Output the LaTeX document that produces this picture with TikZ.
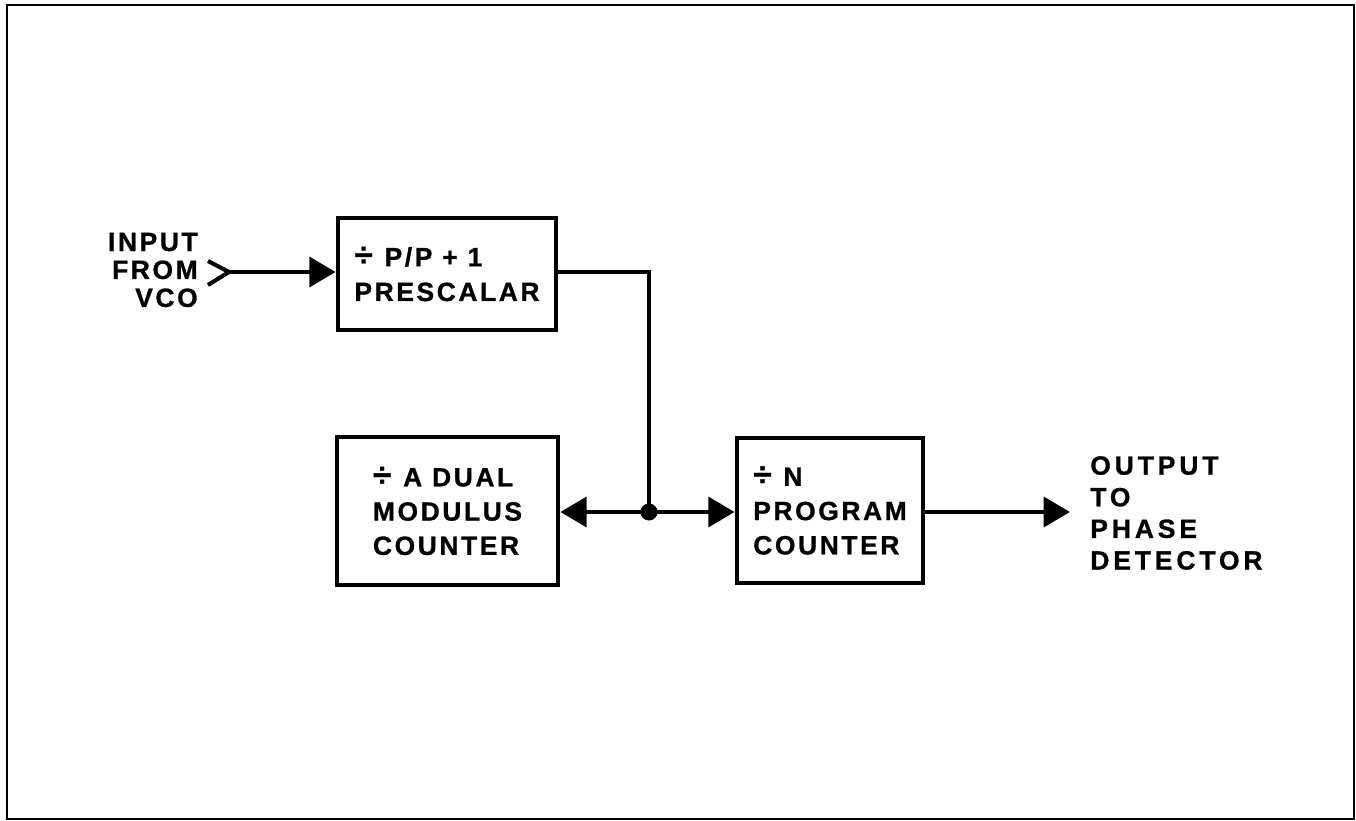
\documentclass[tikz,border=0pt]{standalone}
\usepackage{fontspec}
\setmainfont{Liberation Sans}
\newfontfamily\lbl[LetterSpace=10,FakeBold=1]{Liberation Sans Bold}
\newfontfamily\lblw[LetterSpace=15,FakeBold=1]{Liberation Sans Bold}
\newcommand{\bigdiv}{{\fontsize{19}{19}\selectfont ÷}\hspace{0.45em}}
\usetikzlibrary{arrows.meta}
\begin{document}
\begin{tikzpicture}[x=0.02cm,y=-0.02cm,
  blk/.style={draw,line width=2.7pt,align=left,anchor=center,inner sep=0pt,
    font=\lbl\fontsize{15}{19.5}\selectfont},
  wire/.style={line width=2.3pt},
  arr/.style={wire,-{Triangle[length=15pt,width=17pt]}},
  lab/.style={inner sep=0pt}]
\useasboundingbox (0,0) rectangle (1356,821);
\draw[line width=1.1pt] (7,5) rectangle (1354,819);
% blocks
\node[blk,minimum width=218*0.02cm,minimum height=112*0.02cm] (pre) at (447,274) {\bigdiv P/P + 1\\[0.3pt]PRESCALAR};
\node[blk,minimum width=221*0.02cm,minimum height=148*0.02cm] (dual) at (447.5,511) {\bigdiv A DUAL\\MODULUS\\COUNTER};
\node[blk,minimum width=186*0.02cm,minimum height=145*0.02cm] (prog) at (830,510.5) {\bigdiv N\\PROGRAM\\COUNTER};
% input
\node[lab,align=right,anchor=east,font=\lbl\fontsize{15}{15.9}\selectfont] (inp) at (198,270) {INPUT\\FROM\\VCO};
\coordinate (ctop) at (208,261);
\coordinate (ctip) at (229,272);
\coordinate (cbot) at (208,285);
\draw[wire,line join=miter] (ctop) -- (ctip) -- (cbot);
\draw[arr] (ctip) -- (ctip -| pre.west);
% junction
\coordinate (j) at (649,512);
\draw[wire] (pre.east |- 0,272) -| (j);
\fill (j) circle (8.5);
\draw[arr] (j) -- (j -| dual.east);
\draw[arr] (j) -- (j -| prog.west);
% output
\coordinate (out) at (1070,512);
\draw[arr] (out -| prog.east) -- (out);
\node[lab,align=left,anchor=west,font=\lblw\fontsize{15}{18}\selectfont] (outl) at (1090,513) {OUTPUT\\TO\\PHASE\\DETECTOR};
\end{tikzpicture}
\end{document}
